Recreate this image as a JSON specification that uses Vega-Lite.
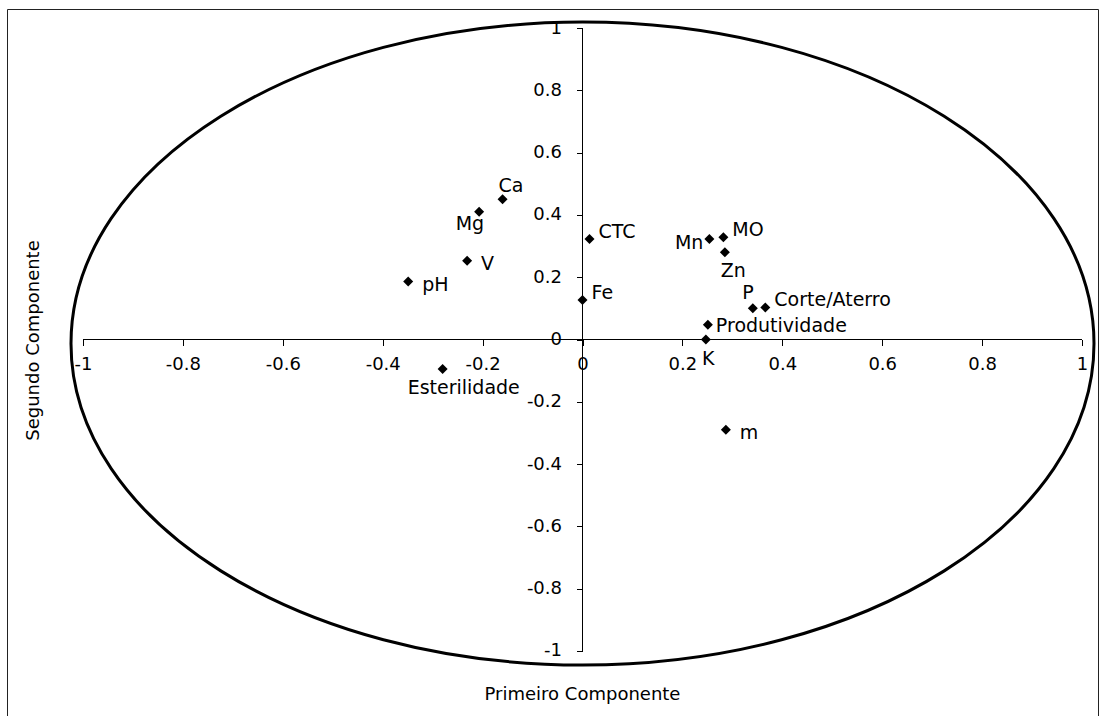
{
  "$schema": "https://vega.github.io/schema/vega-lite/v6.json",
  "width": 1091,
  "height": 711,
  "autosize": {"type": "none"},
  "padding": {"left": 7, "top": 9, "right": 6, "bottom": 0},
  "background": "white",
  "config": {
    "view": {"stroke": "#222", "strokeWidth": 1},
    "font": "DejaVu Sans",
    "axis": {"titleColor": "#000000", "labelColor": "#000000"},
    "text": {"font": "DejaVu Sans", "fontSize": 19, "color": "#000", "baseline": "middle"}
  },
  "datasets": {
    "pts": [
      {"label": "Ca", "x": -0.16, "y": 0.45},
      {"label": "Mg", "x": -0.207, "y": 0.41},
      {"label": "V", "x": -0.231, "y": 0.253},
      {"label": "pH", "x": -0.349, "y": 0.186},
      {"label": "CTC", "x": 0.014, "y": 0.323},
      {"label": "Fe", "x": 0.0, "y": 0.127},
      {"label": "Esterilidade", "x": -0.28, "y": -0.095},
      {"label": "Mn", "x": 0.254, "y": 0.323},
      {"label": "MO", "x": 0.282, "y": 0.328},
      {"label": "Zn", "x": 0.285, "y": 0.28},
      {"label": "P", "x": 0.341, "y": 0.1},
      {"label": "Corte/Aterro", "x": 0.366, "y": 0.103},
      {"label": "Produtividade", "x": 0.251, "y": 0.047},
      {"label": "K", "x": 0.247, "y": 0.0},
      {"label": "m", "x": 0.287, "y": -0.29}
    ]
  },
  "encoding": {
    "x": {
      "field": "x", "type": "quantitative",
      "scale": {"domain": [-1.15215, 1.03203], "zero": false, "nice": false},
      "axis": {
        "orient": "bottom", "offset": -380.5, "zindex": 2,
        "values": [-1, -0.8, -0.6, -0.4, -0.2, 0, 0.2, 0.4, 0.6, 0.8, 1],
        "domain": false, "grid": false, "ticks": true, "tickSize": 6, "tickColor": "#000", "tickWidth": 1,
        "labelExpr": "'' + datum.value",
        "labelFont": "DejaVu Sans", "labelFontSize": 18, "labelColor": "#000", "labelPadding": 10,
        "labelFlush": false, "labelOverlap": false, "labelBound": false,
        "title": "Primeiro Componente", "titleX": 575, "titleY": 354.5, "titleAlign": "center", "titleBaseline": "middle", "titleAngle": 0,
        "titleFont": "DejaVu Sans", "titleFontSize": 18, "titleFontWeight": "normal", "titleColor": "#000"
      }
    },
    "y": {
      "field": "y", "type": "quantitative",
      "scale": {"domain": [-1.22151, 1.061], "zero": false, "nice": false},
      "axis": {
        "orient": "left", "offset": -575.5, "zindex": 2,
        "values": [-1, -0.8, -0.6, -0.4, -0.2, 0, 0.2, 0.4, 0.6, 0.8, 1],
        "domain": false, "grid": false, "ticks": true, "tickSize": 6, "tickColor": "#000", "tickWidth": 1,
        "labelExpr": "'' + datum.value",
        "labelFont": "DejaVu Sans", "labelFontSize": 18, "labelColor": "#000", "labelPadding": 15,
        "labelFlush": false, "labelOverlap": false, "labelBound": false,
        "title": "Segundo Componente", "titleX": -549.5, "titleY": 331, "titleAlign": "center", "titleBaseline": "middle", "titleAngle": 270,
        "titleFont": "DejaVu Sans", "titleFontSize": 18, "titleFontWeight": "normal", "titleColor": "#000"
      }
    }
  },
  "layer": [
    {
      "data": {"name": "pts"},
      "mark": {"type": "point", "shape": "diamond", "filled": true, "size": 100, "color": "#000", "opacity": 1}
    },
    {
      "data": {"values": [{"x": 0, "y": -0.013}]},
      "mark": {
        "type": "point",
        "shape": "M -1 0 C -1 -0.3471 -0.5523 -0.6285 0 -0.6285 C 0.5523 -0.6285 1 -0.3471 1 0 C 1 0.3471 0.5523 0.6285 0 0.6285 C -0.5523 0.6285 -1 0.3471 -1 0 Z",
        "size": 1046529,
        "filled": false,
        "fill": null,
        "stroke": "#000",
        "strokeWidth": 3,
        "opacity": 1
      }
    },
    {
      "data": {"values": [{"x": -1, "x2": 1, "y": 0}]},
      "mark": {"type": "rule", "color": "#000", "strokeWidth": 1},
      "encoding": {
        "x2": {"field": "x2"}
      }
    },
    {
      "data": {"values": [{"x": 0, "y": -1, "y2": 1}]},
      "mark": {"type": "rule", "color": "#000", "strokeWidth": 1},
      "encoding": {
        "y2": {"field": "y2"}
      }
    },
    {
      "data": {"name": "pts"},
      "transform": [{"filter": {"field": "label", "oneOf": ["CTC", "Fe", "MO", "Corte/Aterro"]}}],
      "mark": {"type": "text", "align": "left", "dx": 9, "dy": -7},
      "encoding": {"text": {"field": "label"}}
    },
    {
      "data": {"name": "pts"},
      "transform": [{"filter": {"field": "label", "oneOf": ["V", "pH", "m"]}}],
      "mark": {"type": "text", "align": "left", "dx": 14, "dy": 3},
      "encoding": {"text": {"field": "label"}}
    },
    {
      "data": {"name": "pts"},
      "transform": [{"filter": {"field": "label", "oneOf": ["Produtividade"]}}],
      "mark": {"type": "text", "align": "left", "dx": 8, "dy": 1},
      "encoding": {"text": {"field": "label"}}
    },
    {
      "data": {"name": "pts"},
      "transform": [{"filter": {"field": "label", "oneOf": ["Mn"]}}],
      "mark": {"type": "text", "align": "right", "dx": -6, "dy": 4},
      "encoding": {"text": {"field": "label"}}
    },
    {
      "data": {"name": "pts"},
      "transform": [{"filter": {"field": "label", "oneOf": ["Mg"]}}],
      "mark": {"type": "text", "align": "right", "dx": 5, "dy": 12},
      "encoding": {"text": {"field": "label"}}
    },
    {
      "data": {"name": "pts"},
      "transform": [{"filter": {"field": "label", "oneOf": ["Ca"]}}],
      "mark": {"type": "text", "align": "left", "dx": -4, "dy": -13},
      "encoding": {"text": {"field": "label"}}
    },
    {
      "data": {"name": "pts"},
      "transform": [{"filter": {"field": "label", "oneOf": ["P"]}}],
      "mark": {"type": "text", "align": "right", "dx": 1, "dy": -15},
      "encoding": {"text": {"field": "label"}}
    },
    {
      "data": {"name": "pts"},
      "transform": [{"filter": {"field": "label", "oneOf": ["Zn", "K"]}}],
      "mark": {"type": "text", "align": "left", "dx": -4, "dy": 19},
      "encoding": {"text": {"field": "label"}}
    },
    {
      "data": {"name": "pts"},
      "transform": [{"filter": {"field": "label", "oneOf": ["Esterilidade"]}}],
      "mark": {"type": "text", "align": "left", "dx": -35, "dy": 19},
      "encoding": {"text": {"field": "label"}}
    }
  ]
}
